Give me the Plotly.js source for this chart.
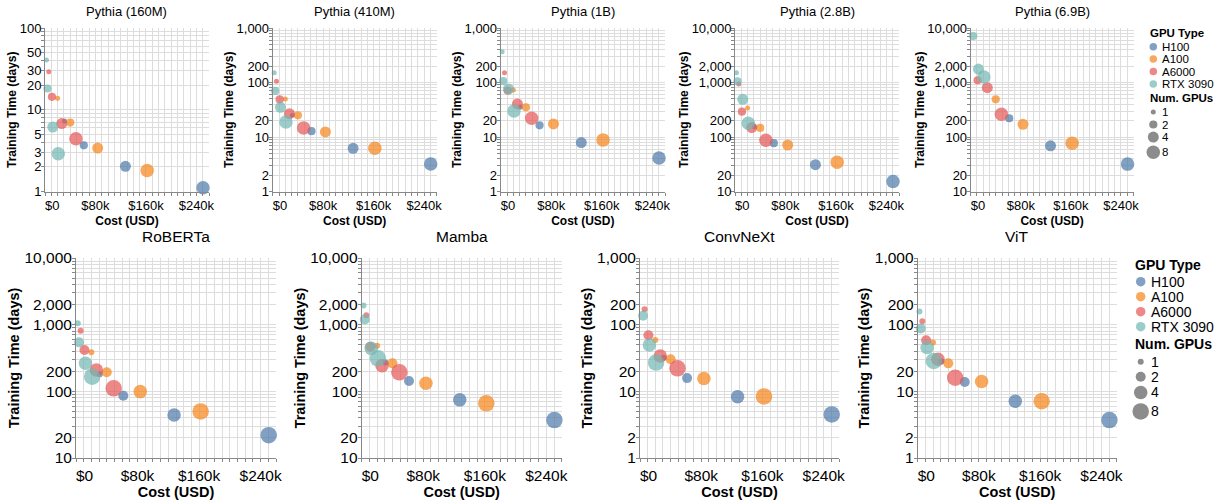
<!DOCTYPE html>
<html>
<head>
<meta charset="utf-8">
<script src="https://cdn.plot.ly/plotly-3.0.1.min.js"></script>
<style>html,body{margin:0;padding:0;background:#fff}#chart{width:1222px;height:500px}</style>
</head>
<body>
<div id="chart"></div>
<script>
// ---------------- data ----------------
const gpuTypes = ['H100', 'A100', 'A6000', 'RTX 3090'];
const numGpus = [1, 2, 4, 8];

// hardware cost (USD) per GPU type, for 1/2/4/8 GPUs
const costH100 = [31000, 61500, 127500, 250500];
const costA100 = [20000, 40000, 83500, 162000];
const costA6000 = [6000, 11000, 26500, 49000];
const costRTX3090 = [2300, 4000, 12300, 21000];

const models = ['Pythia (160M)', 'Pythia (410M)', 'Pythia (1B)', 'Pythia (2.8B)', 'Pythia (6.9B)',
                'RoBERTa', 'Mamba', 'ConvNeXt', 'ViT'];

// training time (days): rows = H100, A100, A6000, RTX 3090; cols = 1, 2, 4, 8 GPUs
const timePythia160M = [[7.3, 3.67, 2.03, 1.11], [13.8, 6.97, 3.4, 1.81], [29.1, 14.4, 6.77, 4.43], [40.5, 18.2, 6.15, 2.9]];
const timePythia410M = [[25, 12.8, 6.2, 3.2], [50, 25, 12.4, 6.2], [105, 49, 26.8, 14.7], [151, 70, 35, 18.9]];
const timePythia1B = [[35, 16.4, 7.9, 4.1], [73, 35, 17.4, 8.85], [151, 71, 40.4, 22], [366, 106, 76, 30]];
const timePythia2_8B = [[155, 77, 31, 15.2], [341, 147, 71, 34.5], [939, 292, 149, 87], [1514, 1050, 492, 179]];
const timePythia6_9B = [[null, 221, 69, 31.8], [null, 492, 171, 77], [null, 1096, 803, 262], [null, 7110, 1766, 1260]];
const timeRoBERTa = [[180, 86, 44, 22], [385, 193, 99, 50], [813, 417, 209, 111], [1047, 543, 263, 166]];
const timeMamba = [[270, 143, 74.5, 37], [483, 263, 132, 66], [1390, 467, 243, 193], [1941, 1200, 441, 313]];
const timeConvNeXt = [[32, 15.8, 8.3, 4.5], [59, 30.2, 15.6, 8.4], [171, 69.5, 33.9, 22.1], [null, 136, 49.6, 27]];
const timeViT = [[28, 13.8, 7.1, 3.7], [54, 26.3, 14, 7.1], [113, 58.4, 30.2, 16], [158, 87.7, 45.4, 28.5]];

// axis tick labels
const xTickLabelValues = [0, 80000, 160000, 240000];
const yLabels160M = [1, 2, 3, 5, 10, 20, 30, 50, 100];
const yLabels1to1000 = [1, 2, 10, 20, 100, 200, 1000];
const yLabels10to10000 = [10, 20, 100, 200, 1000, 2000, 10000];

// ---------------- styles / layout ----------------
const W = 1222, H = 500;
const FONT = 'Liberation Sans, Arial, Helvetica, sans-serif';
const colors = ['#4c78a8', '#f58518', '#e45756', '#72b7b2'];
const costs = [costH100, costA100, costA6000, costRTX3090];
const times = [timePythia160M, timePythia410M, timePythia1B, timePythia2_8B, timePythia6_9B,
               timeRoBERTa, timeMamba, timeConvNeXt, timeViT];
const yLabelSets = [yLabels160M, yLabels1to1000, yLabels1to1000, yLabels10to10000, yLabels10to10000,
                    yLabels10to10000, yLabels10to10000, yLabels1to1000, yLabels1to1000];

const rowTop = {y0: 28, y1: 191.5, titleY: 11.7, titleSize: 13, tickSize: 13, axisTitleSize: 12,
                markerSizes: [5, 8.2, 11, 13.5], xStandoff: 4, yStandoff: 0, xLabelShift: -1, yLabelShift: -3};
const rowBot = {y0: 258, y1: 458, titleY: 236.5, titleSize: 15.5, tickSize: 15.5, axisTitleSize: 14.5,
                markerSizes: [6, 10, 13.5, 16.5], xStandoff: 0, yStandoff: 1, xLabelShift: 0, yLabelShift: -3};
const panelX = [[45, 209], [272.7, 436.7], [500.7, 665], [735, 899], [970.7, 1133.5],
                [76, 276], [361.7, 561.7], [640, 839], [917.7, 1116.7]];

const NB = '\u00a0';
const xGridStep = 10000, xMax = 260000;

function fmt(v) { return v.toLocaleString('en-US'); }

function yTicks(labels) {
  const lo = Math.round(Math.log10(labels[0]));
  const hi = Math.round(Math.log10(labels[labels.length - 1]));
  const vals = [], txt = [];
  for (let e = lo; e < hi; e++) {
    for (let m = 1; m <= 9; m++) {
      const v = m * Math.pow(10, e);
      vals.push(v);
      txt.push(labels.indexOf(v) >= 0 ? fmt(v) : '');
    }
  }
  const top = Math.pow(10, hi);
  vals.push(top); txt.push(labels.indexOf(top) >= 0 ? fmt(top) : '');
  return {vals, txt, range: [lo, hi]};
}

function xTicks() {
  const vals = [], txt = [];
  for (let v = 0; v <= xMax; v += xGridStep) {
    vals.push(v);
    if (xTickLabelValues.indexOf(v) >= 0) {
      txt.push(v === 0 ? NB + NB + NB + NB + '$0' : '$' + (v / 1000) + 'k');
    } else txt.push('');
  }
  return {vals, txt};
}

const data = [];
const layout = {
  width: W, height: H,
  margin: {l: 0, r: 0, t: 0, b: 0},
  paper_bgcolor: '#fff', plot_bgcolor: 'rgba(0,0,0,0)',
  showlegend: false,
  font: {family: FONT, color: '#000'},
  annotations: [], hovermode: 'closest'
};

const xt = xTicks();
models.forEach((name, k) => {
  const row = k < 5 ? rowTop : rowBot;
  const [x0, x1] = panelX[k];
  const idx = k + 1;
  const xa = 'xaxis' + idx, ya = 'yaxis' + idx;
  const yt = yTicks(yLabelSets[k]);
  layout[xa] = {
    domain: [x0 / W, x1 / W], anchor: 'y' + idx, range: [0, xMax], type: 'linear',
    tickmode: 'array', tickvals: xt.vals, ticktext: xt.txt,
    showgrid: true, gridcolor: '#ddd', gridwidth: 1, zeroline: false,
    showline: true, linecolor: '#888', linewidth: 1,
    ticks: 'outside', ticklen: 3, tickcolor: '#888', tickwidth: 1, ticklabelstandoff: row.xLabelShift,
    tickfont: {size: row.tickSize, color: '#000', family: FONT},
    title: {text: 'Cost (USD)', font: {size: row.axisTitleSize, weight: 'bold', color: '#000', family: FONT}, standoff: row.xStandoff},
    fixedrange: true
  };
  layout[ya] = {
    domain: [1 - row.y1 / H, 1 - row.y0 / H], anchor: 'x' + idx, type: 'log', range: yt.range,
    tickmode: 'array', tickvals: yt.vals, ticktext: yt.txt,
    showgrid: true, gridcolor: '#ddd', gridwidth: 1, zeroline: false,
    showline: true, linecolor: '#888', linewidth: 1,
    ticks: 'outside', ticklen: 3, tickcolor: '#888', tickwidth: 1, ticklabelstandoff: row.yLabelShift,
    tickfont: {size: row.tickSize, color: '#000', family: FONT},
    title: {text: 'Training Time (days)', font: {size: row.axisTitleSize, weight: 'bold', color: '#000', family: FONT}, standoff: row.yStandoff},
    fixedrange: true
  };
  layout.annotations.push({
    text: name, xref: 'paper', yref: 'paper', x: (x0 + x1) / 2 / W, y: 1 - row.titleY / H,
    xanchor: 'center', yanchor: 'middle', showarrow: false,
    font: {size: row.titleSize, color: '#000', family: FONT}
  });
  gpuTypes.forEach((g, gi) => {
    data.push({
      type: 'scatter', mode: 'markers', name: g,
      x: costs[gi], y: times[k][gi],
      xaxis: 'x' + idx, yaxis: 'y' + idx, cliponaxis: false,
      text: numGpus.map(n => n + ' GPU' + (n > 1 ? 's' : '')),
      hovertemplate: g + ', %{text}<br>$%{x:,}<br>%{y} days<extra></extra>',
      marker: {color: colors[gi], opacity: 0.7, size: numGpus.map((n, j) => row.markerSizes[j]), line: {width: 0}}
    });
  });
});

// ---------------- legends (custom, on an overlay axis measured in px) ----------------
const legIdx = 10;
layout['xaxis' + legIdx] = {domain: [0, 1], range: [0, W], visible: false, fixedrange: true, anchor: 'y' + legIdx};
layout['yaxis' + legIdx] = {domain: [0, 1], range: [H, 0], visible: false, fixedrange: true, anchor: 'x' + legIdx};

function addLegend(opt) {
  layout.annotations.push({text: 'GPU Type', xref: 'paper', yref: 'paper', x: opt.titleX / W, y: 1 - opt.colorTitleY / H,
    xanchor: 'left', yanchor: 'middle', showarrow: false, font: {size: opt.font, weight: 'bold', color: '#000', family: FONT}});
  const cy = gpuTypes.map((g, i) => opt.colorY0 + i * opt.colorStep);
  data.push({type: 'scatter', mode: 'markers', x: gpuTypes.map(() => opt.symX), y: cy,
    xaxis: 'x' + legIdx, yaxis: 'y' + legIdx, cliponaxis: false, hoverinfo: 'skip',
    marker: {color: colors, opacity: 0.7, size: opt.colorSym, line: {width: 0}}});
  gpuTypes.forEach((g, i) => layout.annotations.push({text: g, xref: 'paper', yref: 'paper', x: opt.labelX / W,
    y: 1 - cy[i] / H, xanchor: 'left', yanchor: 'middle', showarrow: false,
    font: {size: opt.font, color: '#000', family: FONT}}));
  layout.annotations.push({text: 'Num. GPUs', xref: 'paper', yref: 'paper', x: opt.titleX / W, y: 1 - opt.sizeTitleY / H,
    xanchor: 'left', yanchor: 'middle', showarrow: false, font: {size: opt.font, weight: 'bold', color: '#000', family: FONT}});
  const sy = [];
  let y = opt.sizeY0;
  numGpus.forEach((n, i) => {
    if (i > 0) y += Math.max(opt.lineH, (opt.sizes[i - 1] + opt.sizes[i]) / 2 + opt.gap);
    sy.push(y);
  });
  data.push({type: 'scatter', mode: 'markers', x: numGpus.map(() => opt.symX), y: sy,
    xaxis: 'x' + legIdx, yaxis: 'y' + legIdx, cliponaxis: false, hoverinfo: 'skip',
    marker: {color: '#666', opacity: 0.75, size: opt.sizes, line: {width: 0}}});
  numGpus.forEach((n, i) => layout.annotations.push({text: String(n), xref: 'paper', yref: 'paper', x: opt.labelX / W,
    y: 1 - sy[i] / H, xanchor: 'left', yanchor: 'middle', showarrow: false,
    font: {size: opt.font, color: '#000', family: FONT}}));
}

addLegend({titleX: 1147.5, symX: 1153.3, labelX: 1159.5, font: 11.5,
  colorTitleY: 33.3, colorY0: 46.7, colorStep: 12.4, colorSym: 7.5,
  sizeTitleY: 98.3, sizeY0: 112, sizes: rowTop.markerSizes, lineH: 12.5, gap: 3});
addLegend({titleX: 1133, symX: 1140.7, labelX: 1148.5, font: 14,
  colorTitleY: 265, colorY0: 281.7, colorStep: 15, colorSym: 9.5,
  sizeTitleY: 344.3, sizeY0: 361.7, sizes: rowBot.markerSizes, lineH: 15, gap: 4});

Plotly.newPlot('chart', data, layout, {displayModeBar: false, responsive: false});
</script>
</body>
</html>
